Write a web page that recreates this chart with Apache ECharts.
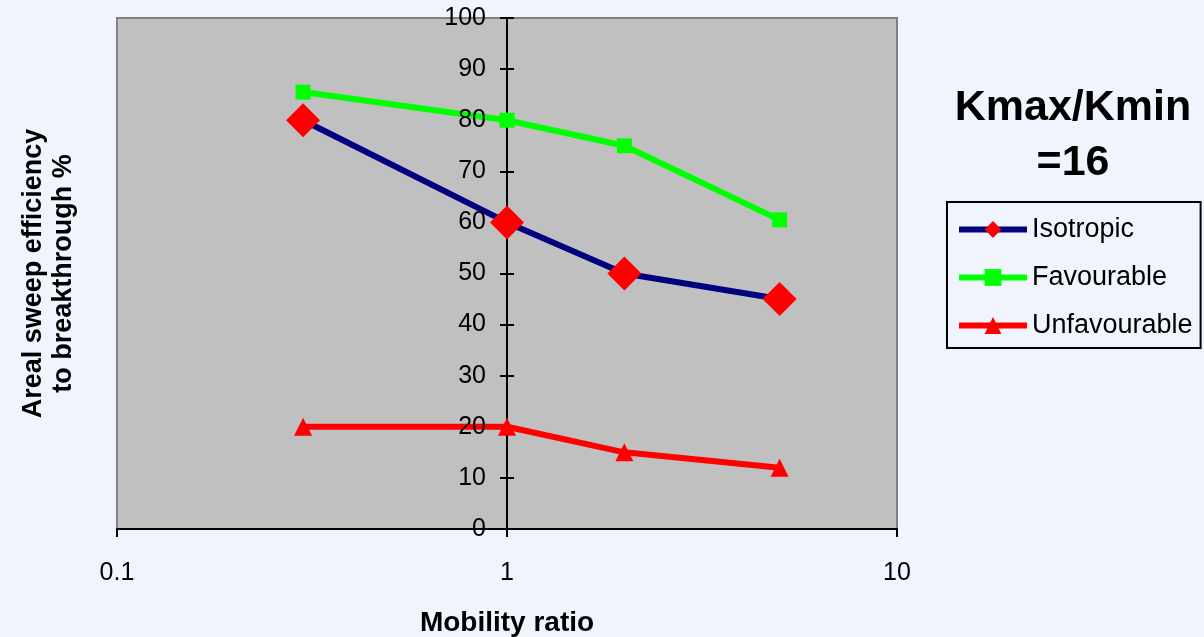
<!DOCTYPE html>
<html>
<head>
<meta charset="utf-8">
<script src="https://cdn.jsdelivr.net/npm/echarts@6/dist/echarts.min.js"></script>
<style>
  html, body { margin: 0; padding: 0; background: #eff4fd; }
  #chart { width: 1204px; height: 637px; }
</style>
</head>
<body>
<div id="chart"></div>
<script>
// Mobility ratio (log scale) and areal sweep efficiency at breakthrough (%)
const mobilityRatio = [0.3, 1, 2, 5];
const isotropic = [80, 60, 50, 45];
const favourable = [85.5, 80, 75, 60.5];
const unfavourable = [20, 20, 15, 12];
const seriesNames = ['Isotropic', 'Favourable', 'Unfavourable'];
const yTicks = [0, 10, 20, 30, 40, 50, 60, 70, 80, 90, 100];
const xTicks = [0.1, 1, 10];

const FONT = "'Liberation Sans', Arial, sans-serif";

function pairs(ys) {
  return mobilityRatio.map((x, i) => [x, ys[i]]);
}

// Shared value range for the three overlaid y axes (labels / line+outer ticks / inner ticks)
const yBase = {
  type: 'value',
  position: 'left',
  offset: -390,
  min: yTicks[0],
  max: yTicks[yTicks.length - 1],
  interval: yTicks[1] - yTicks[0],
  splitLine: { show: false }
};

const chart = echarts.init(document.getElementById('chart'), null, { renderer: 'canvas' });

chart.setOption({
  backgroundColor: '#eff4fd',
  animation: false,
  title: {
    text: 'Kmax/Kmin\n=16',
    left: 1068,
    top: 76,
    textAlign: 'center',
    textStyle: { fontFamily: FONT, fontSize: 43, fontWeight: 'bold', color: '#000', lineHeight: 55 }
  },
  legend: {
    data: seriesNames,
    orient: 'vertical',
    left: 947,
    top: 202,
    padding: [14, 8, 9, 9],
    itemGap: 21,
    itemWidth: 68,
    itemHeight: 21,
    borderColor: '#000',
    borderWidth: 2,
    lineStyle: { width: 6 },
    textStyle: { fontFamily: FONT, fontSize: 27, color: '#000' }
  },
  grid: {
    left: 117,
    right: 307,
    top: 18,
    bottom: 108,
    containLabel: false,
    outerBoundsMode: 'none',
    show: true,
    backgroundColor: '#c0c0c0',
    borderColor: '#808080',
    borderWidth: 2
  },
  xAxis: {
    type: 'log',
    logBase: 10,
    min: xTicks[0],
    max: xTicks[xTicks.length - 1],
    name: 'Mobility ratio',
    nameLocation: 'middle',
    nameGap: 80,
    nameTextStyle: { fontFamily: FONT, fontSize: 28, fontWeight: 'bold', color: '#000' },
    axisLine: { show: true, lineStyle: { color: '#000', width: 2 } },
    axisTick: { show: true, length: 8, lineStyle: { color: '#000', width: 2 } },
    minorTick: { show: false },
    splitLine: { show: false },
    axisLabel: {
      margin: 32,
      fontFamily: FONT,
      fontSize: 25,
      color: '#000',
      formatter: v => String(parseFloat(Number(v).toPrecision(3)))
    }
  },
  yAxis: [
    Object.assign({}, yBase, {
      z: 3,
      name: 'Areal sweep efficiency\nto breakthrough %',
      nameLocation: 'middle',
      nameGap: 428,
      nameRotate: 90,
      nameTextStyle: { fontFamily: FONT, fontSize: 27, fontWeight: 'bold', color: '#000', lineHeight: 30 },
      axisLine: { show: false },
      axisTick: { show: false },
      axisLabel: { margin: 21, fontFamily: FONT, fontSize: 25, color: '#000' }
    }),
    Object.assign({}, yBase, {
      z: 0,
      axisLine: { show: true, lineStyle: { color: '#000', width: 2 } },
      axisTick: { show: true, inside: false, length: 7, lineStyle: { color: '#000', width: 2 } },
      axisLabel: { show: false }
    }),
    Object.assign({}, yBase, {
      z: 0,
      axisLine: { show: false },
      axisTick: { show: true, inside: true, length: 7, lineStyle: { color: '#000', width: 2 } },
      axisLabel: { show: false }
    })
  ],
  series: [
    {
      name: seriesNames[0],
      type: 'line',
      yAxisIndex: 0,
      data: pairs(isotropic),
      symbol: 'diamond',
      symbolSize: 34,
      lineStyle: { color: '#000080', width: 6 },
      itemStyle: { color: '#ff0000' },
      z: 2
    },
    {
      name: seriesNames[1],
      type: 'line',
      yAxisIndex: 0,
      data: pairs(favourable),
      symbol: 'rect',
      symbolSize: 15,
      lineStyle: { color: '#00ff00', width: 6 },
      itemStyle: { color: '#00ff00' },
      z: 2
    },
    {
      name: seriesNames[2],
      type: 'line',
      yAxisIndex: 0,
      data: pairs(unfavourable),
      symbol: 'triangle',
      symbolSize: 18,
      lineStyle: { color: '#ff0000', width: 6 },
      itemStyle: { color: '#ff0000' },
      z: 2
    }
  ]
});
</script>
</body>
</html>
